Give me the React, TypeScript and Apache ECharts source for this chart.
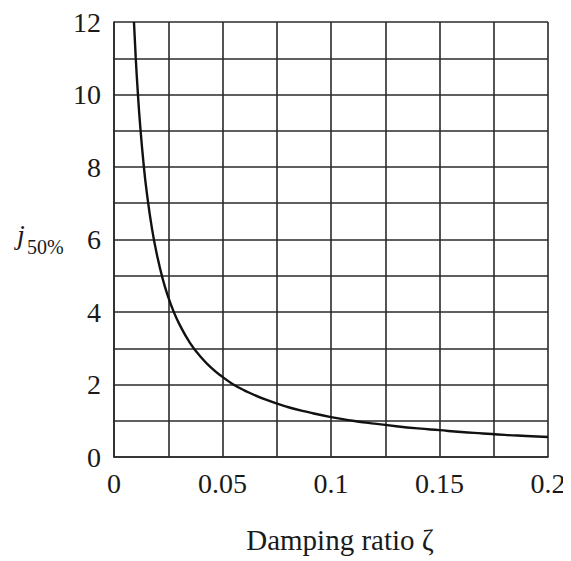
import React, { useEffect, useRef } from "react";
import * as echarts from "echarts";

const zeta = [0.0092, 0.01, 0.011, 0.012, 0.0135, 0.015, 0.0175, 0.02, 0.0225, 0.025, 0.0275, 0.03, 0.035, 0.04, 0.045, 0.05, 0.055, 0.06, 0.07, 0.08, 0.09, 0.1, 0.11, 0.12, 0.13, 0.14, 0.15, 0.16, 0.17, 0.18, 0.19, 0.2];
const j50 = [12.0, 11.03, 10.03, 9.19, 8.17, 7.35, 6.3, 5.52, 4.9, 4.41, 4.01, 3.68, 3.15, 2.76, 2.45, 2.21, 2.0, 1.84, 1.58, 1.38, 1.23, 1.1, 1.0, 0.92, 0.85, 0.79, 0.74, 0.69, 0.65, 0.61, 0.58, 0.55];
const xTickLabels = ["0", "0.05", "0.1", "0.15", "0.2"];
const yTickLabels = ["0", "2", "4", "6", "8", "10", "12"];

const FONT = "'Liberation Serif', 'DejaVu Serif', serif";
const INK = "#1a1a1a";

export default function App() {
  const ref = useRef<HTMLDivElement>(null);
  useEffect(() => {
    if (!ref.current) return;
    const chart = echarts.init(ref.current, undefined, { renderer: "svg" });
    const data = zeta.map((z, i) => [z, j50[i]]);
    chart.setOption({
      animation: false,
      backgroundColor: "#fff",
      grid: { left: 106, top: 14, width: 434, height: 435, outerBoundsMode: "none", containLabel: false },
      xAxis: {
        type: "value",
        min: 0,
        max: 0.2,
        interval: 0.025,
        name: "Damping ratio ζ",
        nameLocation: "middle",
        nameGap: 68,
        nameTextStyle: { fontFamily: FONT, fontSize: 29, color: INK, padding: [0, 0, 0, 18] },
        axisLine: { show: true, lineStyle: { color: "#2a2a2a", width: 1.6 } },
        axisTick: { show: false },
        splitLine: { show: true, lineStyle: { color: "#2a2a2a", width: 1.6 } },
        axisLabel: {
          fontFamily: FONT,
          fontSize: 28,
          color: INK,
          margin: 12,
          hideOverlap: false,
          formatter: (v: number) => {
            const i = Math.round(v / 0.05);
            return Math.abs(v - i * 0.05) < 1e-9 ? xTickLabels[i] ?? "" : "";
          },
        },
      },
      yAxis: {
        type: "value",
        min: 0,
        max: 12,
        interval: 1,
        axisLine: { show: true, lineStyle: { color: "#2a2a2a", width: 1.6 } },
        axisTick: { show: false },
        splitLine: { show: true, lineStyle: { color: "#2a2a2a", width: 1.6 } },
        axisLabel: {
          fontFamily: FONT,
          fontSize: 28,
          color: INK,
          margin: 13,
          formatter: (v: number) => (Math.round(v) % 2 === 0 ? yTickLabels[Math.round(v) / 2] ?? "" : ""),
        },
      },
      graphic: [
        {
          type: "text",
          x: 9,
          y: 212,
          style: { text: "j", font: `italic 28px ${FONT}`, fill: INK },
        },
        {
          type: "text",
          x: 19,
          y: 229,
          style: { text: "50%", font: `20px ${FONT}`, fill: INK },
        },
      ],
      series: [
        {
          type: "line",
          data,
          smooth: true,
          showSymbol: false,
          clip: true,
          lineStyle: { color: "#111", width: 2.4 },
        },
      ],
    });
    return () => chart.dispose();
  }, []);
  return <div ref={ref} style={{ width: 563, height: 553 }} />;
}
